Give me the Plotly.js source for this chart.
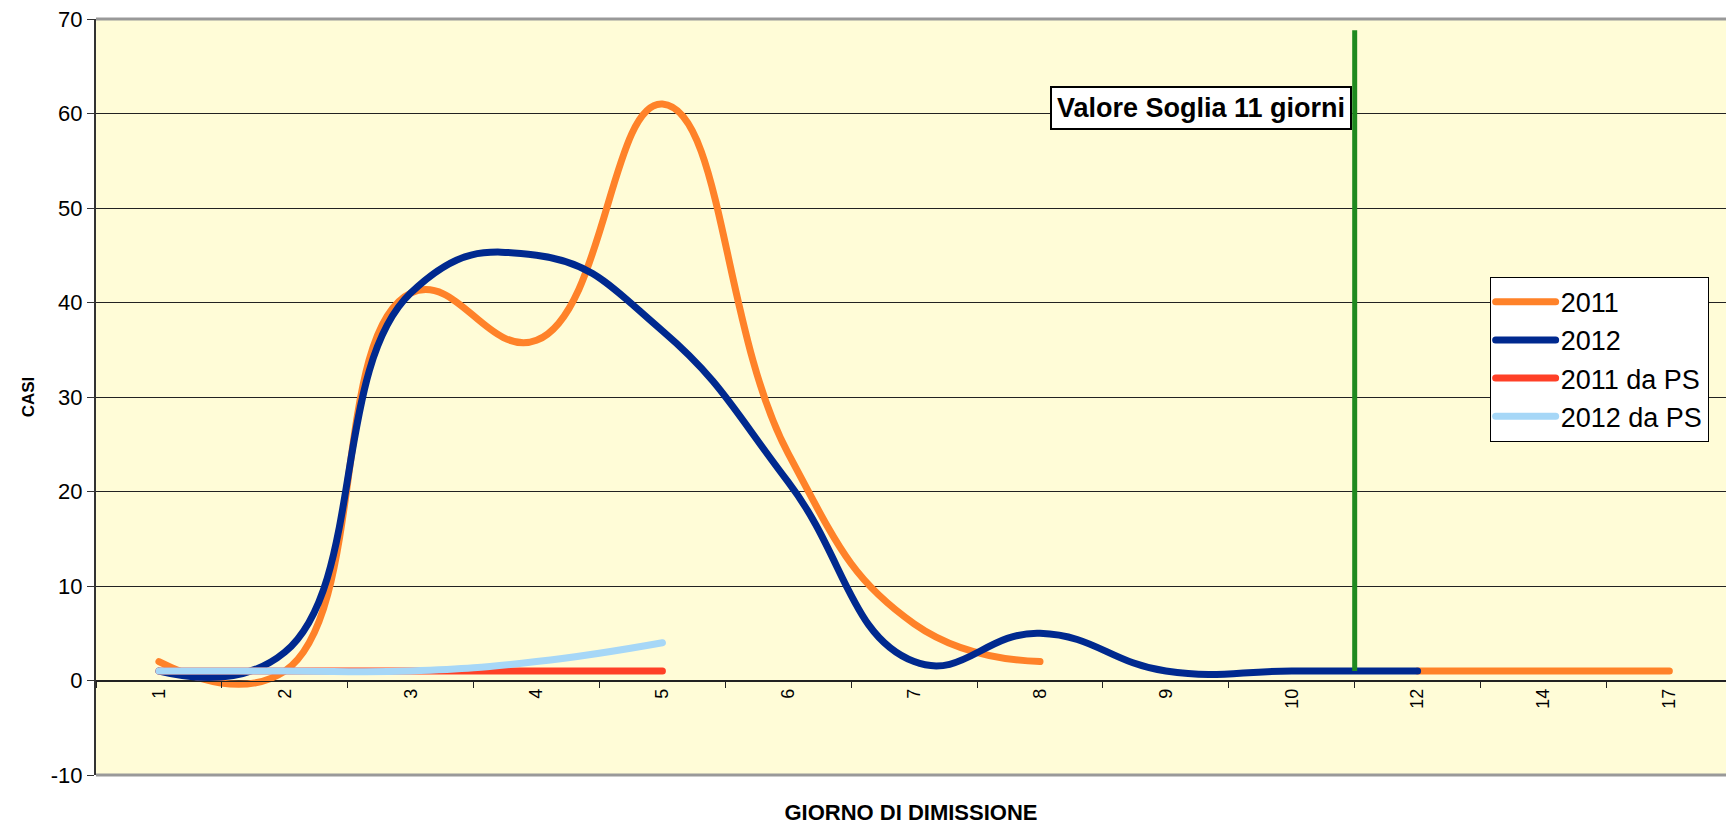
<!DOCTYPE html>
<html>
<head>
<meta charset="utf-8">
<script src="https://cdn.plot.ly/plotly-3.0.1.min.js"></script>
<style>
  html, body { margin: 0; padding: 0; background: #ffffff; }
  #chart { width: 1726px; height: 827px; }
  #chart path.js-line { stroke-linecap: round !important; stroke-linejoin: round !important; }
</style>
</head>
<body>
<div id="chart"></div>
<script>
// Categories: discharge day
const days = ['1', '2', '3', '4', '5', '6', '7', '8', '9', '10', '12', '14', '17'];

// Series values (cases)
const cases2011   = [2, 1, 41, 36, 61, 24, 6, 2, null, null, 1, 1, 1];
const cases2012   = [1, 3, 41, 45, 37, 21, 2, 5, 1, 1, 1, null, null];
const cases2011PS = [1, 1, 1, 1, 1, null, null, null, null, null, null, null, null];
const cases2012PS = [1, 1, 1, 2, 4, null, null, null, null, null, null, null, null];

const seriesNames = ['2011', '2012', '2011 da PS', '2012 da PS'];
const seriesColors = ['#FF8229', '#00298F', '#FF4027', '#A6D7F7'];

// Y tick values and labels (hyphen minus as in the original)
const yTickVals = [-10, 0, 10, 20, 30, 40, 50, 60, 70];
const yTickText = ['-10', '0', '10', '20', '30', '40', '50', '60', '70'];

// Threshold line
const thresholdLabel = 'Valore Soglia 11 giorni';
const thresholdPos = 9.5;      // between "10" and "12"
const thresholdRange = [1, 68.8];

const FONT = 'Liberation Sans, Arial, Helvetica, sans-serif';

const allSeries = [cases2011, cases2012, cases2011PS, cases2012PS];
const traces = allSeries.map((vals, i) => ({
  type: 'scatter',
  mode: 'lines',
  x: days,
  y: vals,
  name: seriesNames[i],
  legendgroup: 'g' + i,
  connectgaps: false,
  line: { color: seriesColors[i], width: 7, shape: 'spline', smoothing: 1.3 },
  hoverinfo: 'x+y+name'
}));

const layout = {
  width: 1726,
  height: 827,
  margin: { l: 96, r: 0, t: 19, b: 52 },
  paper_bgcolor: '#ffffff',
  plot_bgcolor: '#FFFCD7',
  showlegend: true,
  font: { family: FONT, color: '#000000' },
  legend: {
    x: 0.855, y: 0.659, xanchor: 'left', yanchor: 'top',
    bgcolor: '#ffffff', bordercolor: '#000000', borderwidth: 1,
    font: { family: FONT, size: 27, color: '#000000' },
    traceorder: 'grouped', tracegroupgap: 0,
    itemwidth: 60
  },
  xaxis: {
    type: 'category',
    categoryorder: 'array',
    categoryarray: days,
    range: [-0.5, 12.45],
    anchor: 'free',
    position: 0.125,
    showgrid: false,
    zeroline: false,
    showline: true,
    linecolor: '#222222',
    linewidth: 1,
    ticks: 'outside',
    tickson: 'boundaries',
    ticklen: 6,
    tickcolor: '#222222',
    tickangle: -90,
    tickfont: { family: FONT, size: 18, color: '#000000' },
    title: { text: '<b>GIORNO DI DIMISSIONE</b>', font: { family: FONT, size: 22, color: '#000000' }, standoff: 96 },
    fixedrange: true
  },
  yaxis: {
    range: [-10, 70],
    tickmode: 'array',
    tickvals: yTickVals,
    ticktext: yTickText,
    showgrid: true,
    gridcolor: '#222222',
    gridwidth: 1,
    zeroline: false,
    showline: true,
    linecolor: '#333333',
    linewidth: 2,
    ticks: 'outside',
    ticklen: 7,
    tickcolor: '#333333',
    tickfont: { family: FONT, size: 22, color: '#000000' },
    title: { text: '<b>CASI</b>', font: { family: FONT, size: 17, color: '#000000' }, standoff: 12 },
    fixedrange: true
  },
  shapes: [
    { type: 'line', xref: 'paper', yref: 'paper', x0: 0, x1: 1, y0: 1, y1: 1,
      line: { color: '#999999', width: 3 } },
    { type: 'line', xref: 'paper', yref: 'paper', x0: 0, x1: 1, y0: 0, y1: 0,
      line: { color: '#999999', width: 3 } },
    { type: 'line', xref: 'x', yref: 'y', x0: thresholdPos, x1: thresholdPos,
      y0: thresholdRange[0], y1: thresholdRange[1],
      line: { color: '#1F8A1F', width: 5 } }
  ],
  annotations: [
    { xref: 'x', yref: 'y', x: thresholdPos, y: 60.6, xanchor: 'right', yanchor: 'middle',
      xshift: -3, text: '<b>' + thresholdLabel + '</b>', showarrow: false,
      font: { family: FONT, size: 27, color: '#000000' },
      bgcolor: '#ffffff', bordercolor: '#000000', borderwidth: 2, borderpad: 5 }
  ]
};

Plotly.newPlot('chart', traces, layout, { displayModeBar: false, responsive: false });
</script>
</body>
</html>
